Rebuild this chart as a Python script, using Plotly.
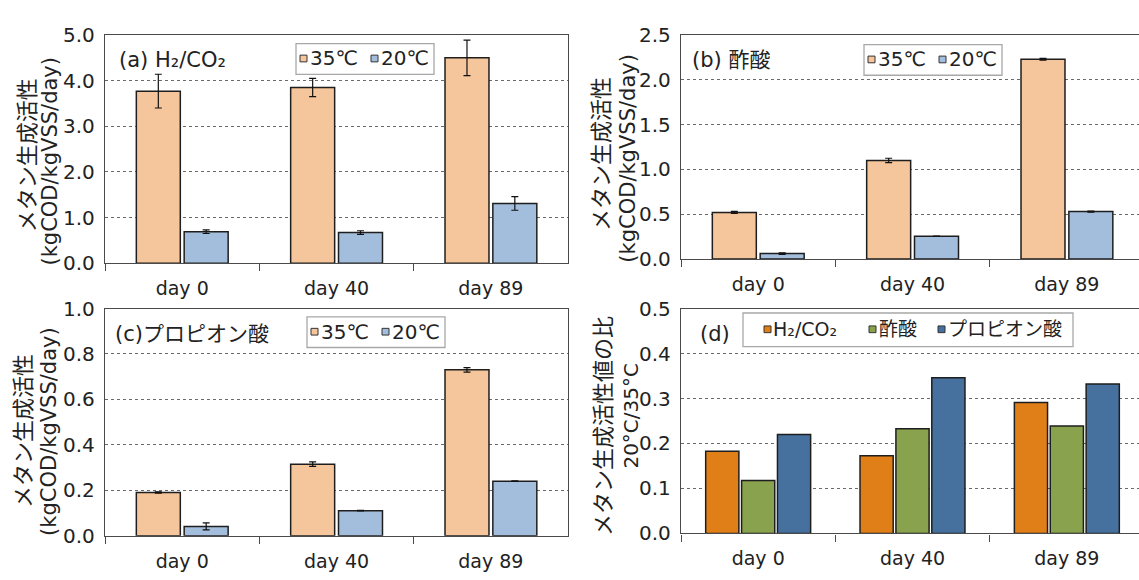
import plotly.graph_objects as go

W, H = 1139, 580
FONT = "DejaVu Sans, Noto Sans CJK JP, sans-serif"
TXT = "#222222"

categories = ["day 0", "day 40", "day 89"]

h2_35 = [3.77, 3.85, 4.50]
h2_35_err = [0.37, 0.20, 0.39]
h2_20 = [0.69, 0.67, 1.31]
h2_20_err = [0.04, 0.04, 0.15]

ac_35 = [0.52, 1.10, 2.23]
ac_35_err = [0.012, 0.025, 0.01]
ac_20 = [0.061, 0.255, 0.53]
ac_20_err = [0.008, 0.0, 0.006]

pr_35 = [0.19, 0.315, 0.73]
pr_35_err = [0.003, 0.01, 0.01]
pr_20 = [0.041, 0.11, 0.24]
pr_20_err = [0.015, 0.001, 0.001]

ratio_h2 = [0.183, 0.173, 0.291]
ratio_ac = [0.118, 0.233, 0.239]
ratio_pr = [0.220, 0.346, 0.332]

temp_names = ["35℃", "20℃"]
ratio_names = ["H₂/CO₂", "酢酸", "プロピオン酸"]

C35 = "#F5C59B"
C20 = "#A3BEDC"
C_H2 = "#E07F17"
C_AC = "#89A24E"
C_PR = "#46709E"
EDGE = "#1E1E1E"


def px(x):
    return x / W


def py(y):
    return 1 - y / H


fig = go.Figure()

panels = [
    ("x", "y", h2_35, h2_35_err, h2_20, h2_20_err),
    ("x2", "y2", ac_35, ac_35_err, ac_20, ac_20_err),
    ("x3", "y3", pr_35, pr_35_err, pr_20, pr_20_err),
]

bw2 = 0.285
for xa, ya, s35, e35, s20, e20 in panels:
    fig.add_trace(go.Bar(
        x=categories, y=s35, xaxis=xa, yaxis=ya, name=temp_names[0],
        width=bw2, offset=-0.297,
        marker=dict(color=C35, line=dict(color=EDGE, width=1.5)),
        error_y=dict(type="data", array=e35, color="#111", thickness=1.2, width=3.5),
        showlegend=False))
    fig.add_trace(go.Bar(
        x=categories, y=s20, xaxis=xa, yaxis=ya, name=temp_names[1],
        width=bw2, offset=0.013,
        marker=dict(color=C20, line=dict(color=EDGE, width=1.5)),
        error_y=dict(type="data", array=e20, color="#111", thickness=1.2, width=3.5),
        showlegend=False))

bw3 = 0.215
for vals, name, col, off in [(ratio_h2, ratio_names[0], C_H2, -0.34),
                             (ratio_ac, ratio_names[1], C_AC, -0.1075),
                             (ratio_pr, ratio_names[2], C_PR, 0.125)]:
    fig.add_trace(go.Bar(
        x=categories, y=vals, xaxis="x4", yaxis="y4", name=name,
        width=bw3, offset=off,
        marker=dict(color=col, line=dict(color=EDGE, width=1.5)),
        showlegend=False))

AX = "#4a4a4a"
GRID = "#6a6a6a"


def xaxis(domain, anchor, rng):
    return dict(domain=domain, anchor=anchor, type="category", range=rng,
                showline=True, linecolor=AX, linewidth=1.4, mirror=True,
                ticks="outside", tickson="boundaries", ticklen=7, tickcolor=AX,
                tickwidth=1.2, showgrid=False, ticklabelstandoff=8,
                tickfont=dict(family=FONT, size=19, color=TXT), fixedrange=True)


def yaxis(domain, anchor, rng, dtick, mirror):
    return dict(domain=domain, anchor=anchor, range=rng, dtick=dtick,
                tickformat=".1f", showline=True, linecolor=AX, linewidth=1.4,
                mirror=mirror, ticks="", showgrid=True, gridcolor=GRID,
                griddash="dot", gridwidth=1, zeroline=False,
                ticklabelstandoff=5,
                tickfont=dict(family=FONT, size=20, color=TXT), fixedrange=True)


left_dom = [px(105), px(568)]
right_dom = [px(681), 1.0]
right_rng = [-0.5, 2.5 - (1144 - W) / 154.0]

fig.update_layout(
    width=W, height=H, margin=dict(l=0, r=0, t=0, b=0),
    paper_bgcolor="white", plot_bgcolor="white", barmode="overlay",
    font=dict(family=FONT, color=TXT),
    xaxis=xaxis(left_dom, "y", [-0.5, 2.5]),
    yaxis=yaxis([py(262), py(24)], "x", [0, 5], 1, True),
    xaxis2=xaxis(right_dom, "y2", right_rng),
    yaxis2=yaxis([py(257.7), py(24)], "x2", [0, 2.5], 0.5, False),
    xaxis3=xaxis(left_dom, "y3", [-0.5, 2.5]),
    yaxis3=yaxis([py(546.3), py(309.3)], "x3", [0, 1.0], 0.2, True),
    xaxis4=xaxis(right_dom, "y4", right_rng),
    yaxis4=yaxis([py(544), py(309.3)], "x4", [0, 0.5], 0.1, False),
)

shapes = []
annotations = []


def box(x0, y0, x1, y1):
    shapes.append(dict(type="rect", xref="paper", yref="paper",
                       x0=px(x0), x1=px(x1), y0=py(y1), y1=py(y0),
                       line=dict(color="#a8a8a8", width=1.3), fillcolor="white",
                       layer="above"))


def marker(x, yc, color):
    shapes.append(dict(type="rect", xref="paper", yref="paper",
                       x0=px(x), x1=px(x + 7), y0=py(yc + 3.5), y1=py(yc - 3.5),
                       line=dict(color="#333", width=1), fillcolor=color,
                       layer="above"))


def text(x, y, s, size=19, anchor="left", angle=0):
    annotations.append(dict(xref="paper", yref="paper", x=px(x), y=py(y),
                            text=s, showarrow=False, xanchor=anchor,
                            yanchor="middle", textangle=angle,
                            font=dict(family=FONT, size=size, color=TXT)))


# temperature legends for (a), (b), (c)
for bx, by in [(296, 33), (864, 34), (307, 318)]:
    box(bx, by, bx + 138, by + 32)
    yc = by + 15.5
    marker(bx + 4, yc, C35)
    text(bx + 12, yc, temp_names[0], size=20)
    marker(bx + 75, yc, C20)
    text(bx + 83, yc, temp_names[1], size=20)

# ratio legend for (d)
box(743, 314, 1073, 349)
for mx, tx, name, col in [(764, 771, ratio_names[0], C_H2),
                          (869, 877, ratio_names[1], C_AC),
                          (938, 946, ratio_names[2], C_PR)]:
    marker(mx, 331, col)
    text(tx, 331, name, size=19)

# panel labels
text(117, 50, "(a) H₂/CO₂", size=21)
text(690, 50, "(b) 酢酸", size=21)
text(113, 336, "(c)プロピオン酸", size=21)
text(698, 336, "(d)", size=21)

# y-axis titles
ytitle = "メタン生成活性"
yunit = "(kgCOD/kgVSS/day)"
text(27.5, 150, ytitle, size=22, anchor="center", angle=-90)
text(50, 156, yunit, size=21, anchor="center", angle=-90)
text(602, 148, ytitle, size=22, anchor="center", angle=-90)
text(628, 153, yunit, size=21, anchor="center", angle=-90)
text(24, 437, ytitle, size=22, anchor="center", angle=-90)
text(49, 438, yunit, size=21, anchor="center", angle=-90)
text(603, 432, "メタン生成活性値の比", size=22, anchor="center", angle=-90)
text(631, 421, "20°C/35°C", size=20, anchor="center", angle=-90)

fig.update_layout(shapes=shapes, annotations=annotations)

fig.write_html("out.html")
